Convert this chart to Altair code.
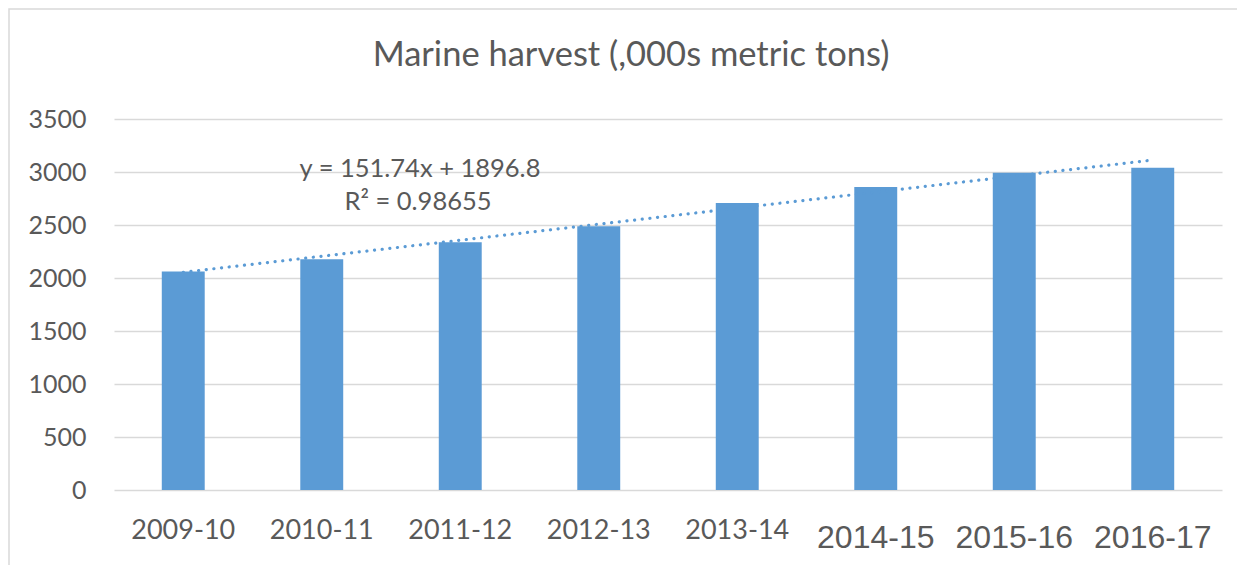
import altair as alt
import pandas as pd

periods = ["2009-10", "2010-11", "2011-12", "2012-13", "2013-14", "2014-15", "2015-16", "2016-17"]
harvest = [2062, 2178, 2338, 2488, 2708, 2858, 2994, 3040]
index = [1, 2, 3, 4, 5, 6, 7, 8]
small_labels = ["2009-10", "2010-11", "2011-12", "2012-13", "2013-14"]
large_labels = ["2014-15", "2015-16", "2016-17"]
title_text = "Marine harvest (,000s metric tons)"
eq_lines = ["y = 151.74x + 1896.8", "R² = 0.98655"]
y_ticks = [0, 500, 1000, 1500, 2000, 2500, 3000, 3500]

df = pd.DataFrame({"period": periods, "value": harvest, "idx": index})

TEXT = "#595959"
BLUE = "#5B9BD5"
GRID = "#D9D9D9"

xscale = alt.Scale(domain=periods, paddingInner=0.69, paddingOuter=0.345)
yscale = alt.Scale(domain=[0, 3500], nice=False)

base = alt.Chart(df)

bars = base.mark_bar(color=BLUE).encode(
    x=alt.X("period:N", scale=xscale, sort=periods,
            axis=alt.Axis(title=None, labels=False, ticks=False, domain=False, grid=False)),
    y=alt.Y("value:Q", scale=yscale,
            axis=alt.Axis(title=None, values=y_ticks, format="d", ticks=False, tickSize=0,
                          domain=False, grid=True, gridColor=GRID, gridWidth=1.4,
                          labelFont="Lato", labelFontSize=25, labelColor=TEXT,
                          labelPadding=28)),
)

trend = base.transform_regression("idx", "value").transform_lookup(
    lookup="idx", from_=alt.LookupData(df, "idx", ["period"])
).mark_line(color=BLUE, strokeWidth=3.2, strokeCap="round", strokeDash=[0.1, 7.6]).encode(
    x=alt.X("period:N", scale=xscale, sort=periods),
    y=alt.Y("value:Q", scale=yscale),
)

small_df = pd.DataFrame({"period": small_labels})
large_df = pd.DataFrame({"period": large_labels})

small_txt = alt.Chart(small_df).mark_text(
    font="Lato", fontSize=27, color=TEXT, baseline="middle", align="center"
).encode(x=alt.X("period:N", scale=xscale, sort=periods), y=alt.value(412), text="period:N")

large_txt = alt.Chart(large_df).mark_text(
    font="Liberation Sans", fontSize=32, color=TEXT, baseline="middle", align="center"
).encode(x=alt.X("period:N", scale=xscale, sort=periods), y=alt.value(419), text="period:N")

title = alt.Chart(alt.Data(values=[{"t": title_text}])).mark_text(
    font="Lato", fontSize=34.5, color=TEXT, baseline="middle", align="center"
).encode(x=alt.value(517), y=alt.value(-63), text="t:N")

eq1 = alt.Chart(pd.DataFrame({"t": [eq_lines[0]]})).mark_text(
    font="Lato", fontSize=25.5, color=TEXT, baseline="alphabetic", align="center"
).encode(x=alt.value(306), y=alt.value(58), text="t:N")
eq2 = alt.Chart(pd.DataFrame({"t": [eq_lines[1]]})).mark_text(
    font="Lato", fontSize=25.5, color=TEXT, baseline="alphabetic", align="center"
).encode(x=alt.value(304), y=alt.value(91), text="t:N")

border = alt.Chart(alt.Data(values=[{}])).mark_rect(
    fill=None, stroke=GRID, strokeWidth=1.5
).encode(x=alt.value(-105), x2=alt.value(1200), y=alt.value(-110), y2=alt.value(600))

chart = alt.layer(border, bars, trend, small_txt, large_txt, title, eq1, eq2).properties(
    width=1108, height=371,
    padding={"left": 106, "top": 111, "right": 15, "bottom": 75},
    autosize=alt.AutoSizeParams(type="none"),
).configure_view(stroke=None)

chart.save("out.html", embed_options={"renderer": "svg", "actions": False})
